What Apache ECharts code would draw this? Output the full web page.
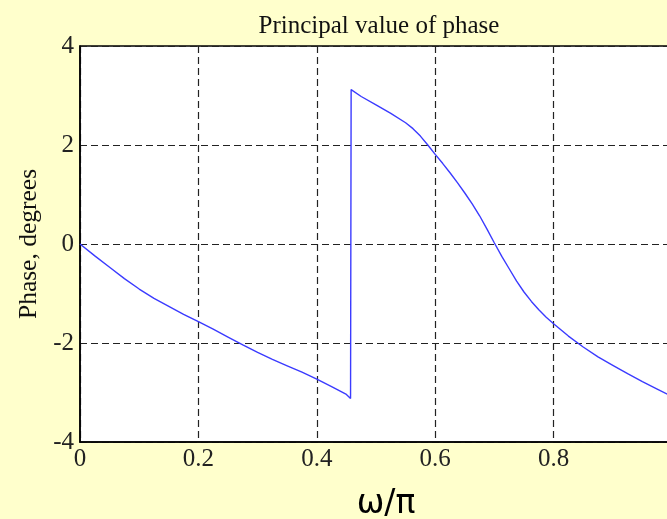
<!DOCTYPE html>
<html>
<head>
<meta charset="utf-8">
<script src="https://cdn.jsdelivr.net/npm/echarts@6/dist/echarts.min.js"></script>
<style>
html,body{margin:0;padding:0;background:#FFFFCC;}
#c{width:667px;height:519px;}
</style>
</head>
<body>
<div id="c"></div>
<script>
const titleText = 'Principal value of phase';
const xLabel = 'ω/π';
const yLabel = 'Phase, degrees';
const xTicks = [0, 0.2, 0.4, 0.6, 0.8];
const yTicks = [-4, -2, 0, 2, 4];
// frequency (ω/π) samples
const omega = [0, 0.025, 0.05, 0.075, 0.1, 0.125, 0.15, 0.175, 0.2, 0.225, 0.25, 0.275, 0.3, 0.325, 0.35, 0.375, 0.4, 0.425, 0.45, 0.457,
  0.458, 0.475, 0.5, 0.525, 0.55, 0.5625, 0.575, 0.5875, 0.6, 0.6125, 0.625, 0.6375, 0.65, 0.6625, 0.675, 0.6875, 0.7, 0.7125, 0.725, 0.7375, 0.75, 0.7625, 0.775, 0.7875, 0.8, 0.825, 0.85, 0.875, 0.9, 0.925, 0.95, 0.975, 1.0];
// principal value of phase
const phase = [0, -0.24, -0.47, -0.70, -0.91, -1.10, -1.26, -1.42, -1.57, -1.72, -1.88, -2.04, -2.19, -2.33, -2.46, -2.59, -2.73, -2.88, -3.04, -3.12,
  3.12, 2.98, 2.81, 2.64, 2.45, 2.33, 2.18, 2.00, 1.81, 1.63, 1.44, 1.24, 1.03, 0.81, 0.57, 0.30, 0.02, -0.25, -0.50, -0.75, -0.97, -1.16, -1.33, -1.48, -1.61, -1.86, -2.08, -2.28, -2.45, -2.62, -2.78, -2.93, -3.08];

const data = omega.map((w, i) => [w, phase[i]]);
const serif = 'Liberation Serif';
const chart = echarts.init(document.getElementById('c'));
chart.setOption({
  backgroundColor: '#FFFFCC',
  animation: false,
  title: {
    text: titleText, left: 374, top: 9, textAlign: 'center',
    textStyle: { fontFamily: serif, fontSize: 25, fontWeight: 'normal', color: '#111' }
  },
  grid: { left: 80, top: 46, width: 592, height: 396, outerBoundsMode: 'none', containLabel: false,
    show: true, backgroundColor: '#fff', borderColor: '#000', borderWidth: 1.5 },
  xAxis: {
    type: 'value', min: 0, max: 1, interval: 0.2,
    name: xLabel, nameLocation: 'middle', nameGap: 46,
    nameTextStyle: { fontFamily: 'DejaVu Sans', fontSize: 33, color: '#000', padding: [0, 0, 0, 20] },
    axisLine: { show: true, onZero: false, lineStyle: { color: '#000', width: 1.5 } },
    axisTick: { show: false },
    axisLabel: { fontFamily: serif, fontSize: 25, color: '#222', margin: 5,
      formatter: v => xTicks.some(t => Math.abs(t - v) < 1e-9) ? String(v) : '' },
    splitLine: { show: true, lineStyle: { color: '#222', width: 1.2, type: [7, 4] } }
  },
  yAxis: {
    type: 'value', min: -4, max: 4, interval: 2,
    name: yLabel, nameLocation: 'middle', nameGap: 35,
    nameTextStyle: { fontFamily: serif, fontSize: 25.5, color: '#111' },
    axisLine: { show: true, onZero: false, lineStyle: { color: '#000', width: 1.5 } },
    axisTick: { show: false },
    axisLabel: { fontFamily: serif, fontSize: 25, color: '#222', margin: 6,
      formatter: v => yTicks.includes(v) ? String(v) : '' },
    splitLine: { show: true, lineStyle: { color: '#222', width: 1.2, type: [7, 4] } }
  },
  series: [{
    type: 'line', data: data, showSymbol: false, smooth: false,
    lineStyle: { color: '#3b3bff', width: 1.4 }
  }]
});
</script>
</body>
</html>
